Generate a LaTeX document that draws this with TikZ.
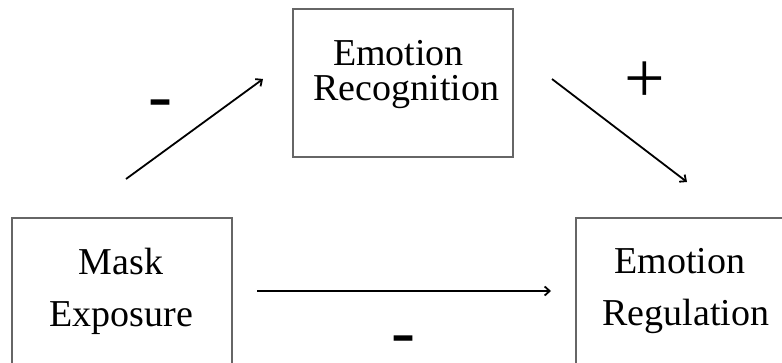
\documentclass[tikz,border=0pt]{standalone}
\usepackage{fontspec}
\setmainfont{Liberation Serif}
\usetikzlibrary{arrows.meta}
\begin{document}
\begin{tikzpicture}[x=1pt,y=-1pt,
  box/.style={draw=black!60,line width=1.8pt,inner sep=0pt,fill=none},
  lbl/.style={anchor=base,inner sep=0pt,font=\fontsize{38}{40}\selectfont},
  sign/.style={inner sep=0pt,font=\fontsize{72}{72}\selectfont},
  conn/.style={line width=1.8pt,-{Straight Barb[length=5pt,width=9pt,line width=1.8pt]}}]
\useasboundingbox (0,0) rectangle (782,362);
\clip (0,0) rectangle (782,362);
% boxes
\node[box,minimum width=220pt,minimum height=148pt] (rec) at (403,83) {};
\node[box,minimum width=220pt,minimum height=202pt] (mask) at (122,319) {};
\node[box,minimum width=220pt,minimum height=202pt] (reg) at (686,319) {};
% texts
\node[lbl] (rec1) at (398.5,65) {Emotion};
\node[lbl] (rec2) at (406.5,100) {Recognition};
\node[lbl] (mask1) at (121,274) {Mask};
\node[lbl] (mask2) at (121.5,326) {Exposure};
\node[lbl] (reg1) at (680,273) {Emotion};
\node[lbl] (reg2) at (686,325) {Regulation};
% connector ends
\coordinate (a1) at (126,179);
\coordinate (a2) at (263,79);
\coordinate (b1) at (552,79);
\coordinate (b2) at (687,182);
\coordinate (c1) at (257,291);
\coordinate (c2) at (551,291);
\draw[conn] (a1) -- (a2);
\draw[conn] (b1) -- (b2);
\draw[conn] (c1) -- (c2);
% signs
\node[sign,anchor=base] (s1) at (160.5,119) {-};
\node[sign] (s2) at (644.5,82) {+};
\node[sign,anchor=base] (s3) at (403.5,355) {-};
\end{tikzpicture}
\end{document}
